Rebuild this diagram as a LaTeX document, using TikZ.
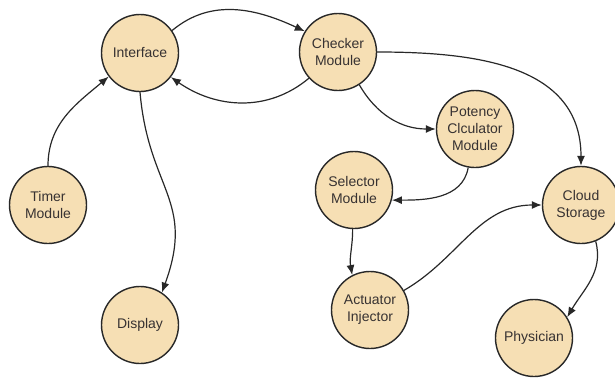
\documentclass[tikz,border=0pt]{standalone}
\usepackage{fontspec}
\setmainfont{Liberation Sans}
\usetikzlibrary{arrows.meta}
\definecolor{nodefill}{RGB}{246,223,180}
\definecolor{edgecol}{RGB}{40,40,40}
\definecolor{textcol}{RGB}{55,50,50}
\begin{document}
\begin{tikzpicture}[x=1pt,y=-1pt,
  modnode/.style={circle,draw=edgecol,line width=1.4pt,fill=nodefill,minimum size=77pt,inner sep=0pt,
    align=center,text=textcol,font=\fontsize{14}{17}\selectfont},
  conn/.style={draw=edgecol,line width=1.2pt,-{Latex[length=10pt,width=8pt]}}]
\useasboundingbox (0,0) rectangle (615,380);
\node[modnode] (iface) at (140,53) {Interface};
\node[modnode] (check) at (338,52) {Checker\\Module};
\node[modnode] (pot) at (475,129) {Potency\\Clculator\\Module};
\node[modnode] (sel) at (354,190) {Selector\\Module};
\node[modnode] (cloud) at (581,205) {Cloud\\Storage};
\node[modnode] (act) at (370,310) {Actuator\\Injector};
\node[modnode] (phys) at (534,338) {Physician};
\node[modnode] (timer) at (48,205) {Timer\\Module};
\node[modnode] (disp) at (140,325) {Display};

\draw[conn] (iface.35) to[out=40,in=155] (check.148);
\draw[conn] (check.222) to[out=220,in=-35] (iface.-38);
\draw[conn] (timer.north) to[out=90,in=220] (iface.217);
\draw[conn] (iface.-90) to[out=-85,in=70,looseness=1.25] (disp.56);
\draw[conn] (check.-57) to[out=-60,in=180] (pot.west);
\draw[conn] (check.east) to[out=0,in=90,looseness=1.1] (cloud.north);
\draw[conn] (pot.-100) to[out=-100,in=0] (sel.-15);
\draw[conn] (sel.-92) to[out=-90,in=100] (act.117);
\draw[conn] (act.30) to[out=30,in=180] (cloud.180);
\draw[conn] (cloud.-68) to[out=-75,in=60] (phys.32);
\end{tikzpicture}
\end{document}
